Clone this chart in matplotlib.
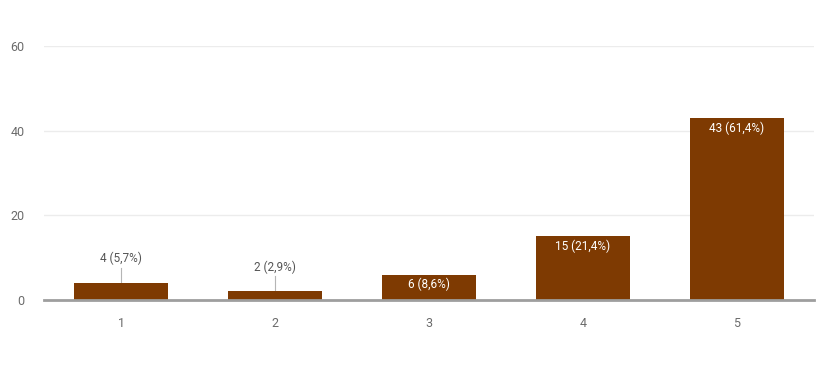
import matplotlib.pyplot as plt

categories = ['1', '2', '3', '4', '5']
counts = [4, 2, 6, 15, 43]
labels = ['4 (5,7%)', '2 (2,9%)', '6 (8,6%)', '15 (21,4%)', '43 (61,4%)']
yticks = [0, 20, 40, 60]

bar_color = '#7e3a02'
grey = '#6b6b6b'

plt.rcParams['font.family'] = ['Roboto', 'DejaVu Sans']

fig = plt.figure(figsize=(8.18, 3.9), dpi=100)
ax = fig.add_axes([0.054, 0.231, 0.941, 0.651])

x = list(range(1, len(categories) + 1))
ax.bar(x, counts, width=0.61, color=bar_color, zorder=3)

# small bars get the label above with a leader line, big ones inside
for xi, v, lab in zip(x, counts, labels):
    if v < 5:
        ty = v + 4.2
        ax.plot([xi, xi], [v, ty - 0.6], color='#b5b5b5', lw=0.8, zorder=2)
        ax.text(xi, ty, lab, ha='center', va='bottom', fontsize=8.5, color='#555555')
    else:
        ax.text(xi, v - 0.8, lab, ha='center', va='top', fontsize=8.5, color='white')

ax.set_xlim(0.5, 5.5)
ax.set_ylim(0, 60)
ax.set_xticks(x)
ax.set_xticklabels(categories)
ax.set_yticks(yticks)
ax.grid(axis='y', color='#ececec', lw=1, zorder=0)
for s in ['top', 'right', 'left']:
    ax.spines[s].set_visible(False)
ax.spines['bottom'].set_color('#9e9e9e')
ax.spines['bottom'].set_linewidth(2)
ax.spines['bottom'].set_zorder(4)
ax.tick_params(length=0, labelsize=9, colors=grey)
ax.tick_params(axis='x', pad=12)
ax.tick_params(axis='y', pad=14)

fig.savefig('out.png', dpi=100)
